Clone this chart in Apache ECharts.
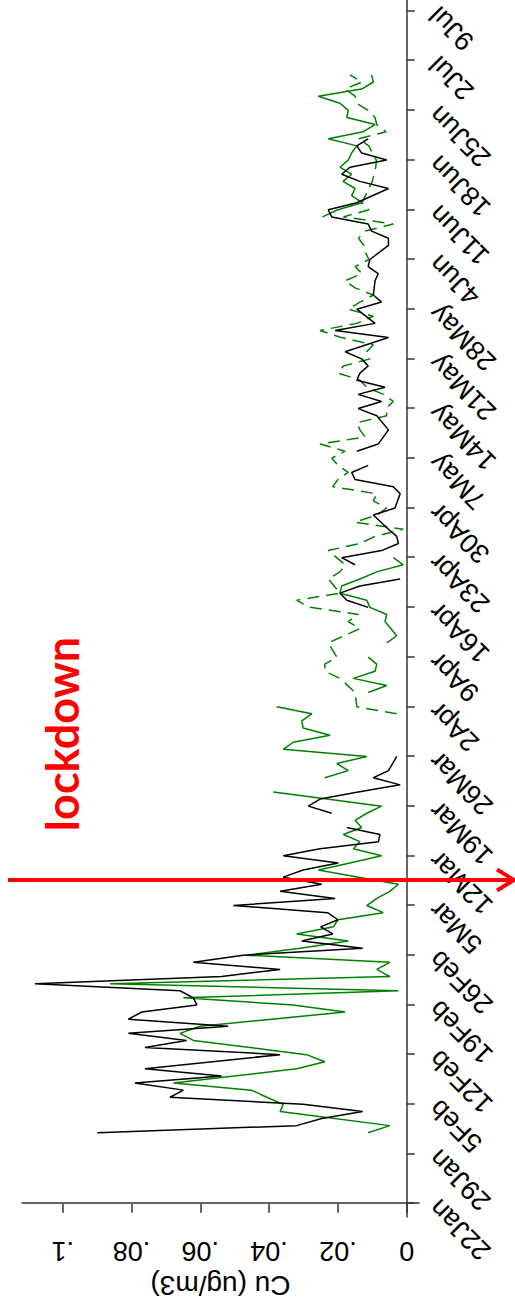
<!DOCTYPE html>
<html>
<head>
<meta charset="utf-8">
<script src="https://cdn.jsdelivr.net/npm/echarts@6/dist/echarts.min.js"></script>
<style>
  html, body { margin: 0; padding: 0; background: #fff; }
  #frame { position: relative; width: 515px; height: 1303px; overflow: hidden; }
  /* the plot is laid out landscape and turned a quarter turn counter-clockwise */
  #chart { position: absolute; left: 0; top: 0; width: 1303px; height: 515px;
           transform-origin: 0 0; transform: translate(0, 1303px) rotate(-90deg); }
</style>
</head>
<body>
<div id="frame"><div id="chart"></div></div>
<script>
// days counted from 22 Jan
const tickDays = [0,7,14,21,28,35,42,49,56,63,70,77,84,91,98,105,112,119,126,133,140,147,154,161,168];
const tickLabels = ['22Jan','29Jan','5Feb','12Feb','19Feb','26Feb','5Mar','12Mar','19Mar','26Mar','2Apr','9Apr',
  '16Apr','23Apr','30Apr','7May','14May','21May','28May','4Jun','11Jun','18Jun','25Jun','2Jul','9Jul'];
const valueTicks = [0, 0.02, 0.04, 0.06, 0.08, 0.1];
const valueLabels = ['0', '.02', '.04', '.06', '.08', '.1'];
const lockdownDay = 45.6;

// daily Cu concentrations, [day, ug/m3]; null marks a missing day
const siteBlack = [
  [10,.0899],[11,.0320],[12,.0247],[13,.0128],[14,.0301],[15,.0688],[16,.0649],[17,.0790],[18,.0538],[19,.0761],
  [21,.0368],[22,.0761],[23,.0640],[24,.0809],[25,.0519],[26,.0809],[27,.0770],[28,.0610],[29,.0620],[30,.0659],
  [31,.1081],[32,.0538],[33,.0368],[34,.0620],[35,.0475],[36,.0128],[37,.0305],[38,.0215],[39,.0250],[40,.0200],
  [41,.0230],[42,.0504],[43,.0208],[44,.0368],[45,.0247],[46,.0359],[47,.0301],[48,.0199],[49,.0359],[50,.0252],
  [51,.0082],[52,.0078],[53,.0174],[54,null],[55,.0218],[56,.0286],[57,.0252],[58,.0141],[59,.0019],[60,.0097],
  [61,.0053],[63,.0029],[64,null],
  [84,.0112],[85,.0174],[86,.0194],[87,.0136],[88,.0019],[89,null],[90,.0150],[91,.0189],[92,.0073],[93,.0024],
  [94,.0029],[95,.0053],[97,.0097],[98,.0034],[100,.0019],[101,.0039],[102,.0150],[103,.0160],[104,.0112],[105,null],
  [106,.0145],[107,.0083],[109,.0053],[111,.0087],[112,.0141],[113,.0073],[114,.0141],[115,.0063],[116,.0145],
  [117,.0136],[118,.0112],[119,.0131],[120,.0179],[122,.0053],[123,.0208],[124,.0092],[126,.0145],[127,.0073],
  [128,.0097],[130,.0092],[131,.0083],[132,.0112],[133,.0107],[135,.0053],[136,.0053],[137,.0102],[138,.0112],
  [139,.0218],[140,.0228],[141,.0145],[143,.0053],[144,.0136],[145,.0189],[146,.0165],[147,.0058],[148,.0131],
  [149,.0145],[150,.0112]
];
const siteGreen = [
  [10,.0112],[11,.0049],[13,.0368],[14,.0359],[15,.0407],[16,.0451],[17,.0678],[19,.0320],[20,.0238],[21,.0291],
  [23,.0620],[24,.0659],[25,.0601],[27,.0179],[28,.0330],[29,.0649],[30,.0024],[31,.0862],[32,.0049],[33,.0087],
  [34,.0049],[35,.0465],[36,.0310],[37,.0170],[38,.0320],[39,.0213],[40,.0200],[41,.0068],[42,.0116],[43,.0087],
  [44,.0049],[45,.0024],[46,.0140],[47,.0257],[48,.0165],[49,.0073],[50,.0155],[51,.0136],[52,.0184],[53,.0131],
  [54,.0150],[55,.0116],[56,.0073],[57,.0232],[58,.0388],[59,null],[60,.0238],[61,.0170],[62,.0203],[63,.0116],
  [64,.0359],[65,.0330],[66,.0223],[67,.0301],[68,.0305],[69,.0276],[70,.0378],[71,null],[72,.0112],[73,.0058],
  [74,.0155],[75,.0092],[76,.0087],[77,.0112],[78,null],[79,.0058],[80,.0029],[82,.0063],[83,.0058],[84,.0107],
  [85,.0116],[86,.0194],[87,.0189],[88,.0136],[89,.0087],[90,.0010],[91,.0039],[92,null],
  [139,.0245],[140,.0200],[141,.0130],[142,.0160],[143,.0150],[144,.0185],[145,.0160],[146,.0194],[147,.0170],
  [148,.0160],[149,.0145],[150,.0228],[151,.0126],[152,.0092],[153,.0174],[154,.0170],[155,.0194],[156,.0257],
  [157,.0131],[158,.0097],[159,.0102]
];
const siteGreenDash = [
  [69,.0029],[70,.0145],[72,.0150],[74,.0194],[75,.0238],[76,.0238],[77,.0203],[79,.0228],[81,.0136],[82,.0170],
  [83,.0140],[84,.0281],[85,.0320],[86,.0194],[88,.0228],[89,.0194],[90,.0179],[92,.0228],[93,.0136],[94,.0092],
  [95,.0010],[96,.0150],[97,.0087],[98,.0058],[99,.0097],[100,.0087],[101,.0215],[102,.0200],[103,.0170],[104,.0199],
  [105,.0218],[106,.0179],[107,.0252],[108,.0121],[109,.0136],[110,.0145],[111,.0058],[112,.0060],[113,.0039],
  [114,.0068],[115,.0116],[116,.0136],[117,.0199],[118,.0184],[119,.0107],[120,.0116],[121,.0097],[122,.0190],
  [123,.0252],[124,.0145],[125,.0097],[126,.0170],[127,.0136],[128,.0097],[129,.0150],[130,.0180],[131,.0130],
  [132,.0150],[133,.0110],[134,.0120],[135,.0125],[136,.0140],[137,.0120],[138,.0039],[139,.0184],[140,.0110],
  [141,.0130],[142,.0120],[143,.0110],[144,.0100],[145,.0095],[146,.0090],[147,.0088],[148,.0100],[149,.0110],
  [150,.0140],[151,.0060],[152,.0087],[153,.0092],[154,.0112],[155,.0145],[156,.0150],[157,.0179],[158,.0130],
  [159,.0165]
];

const FONT = '"Liberation Sans", Arial, sans-serif';
const AXIS = '#333';
const chart = echarts.init(document.getElementById('chart'), null, { renderer: 'svg', width: 1303, height: 515 });

const lineSeries = (data, color, dashed) => ({
  type: 'line', data, showSymbol: false, symbol: 'none', connectNulls: false, animation: false,
  lineStyle: { color, width: 1.5, type: dashed ? [12, 7] : 'solid' }
});

chart.setOption({
  animation: false,
  grid: { left: 86, right: 0, top: 22, bottom: 96, containLabel: false, outerBoundsMode: 'none' },
  xAxis: {
    type: 'value', min: -1.87, max: 169.55,
    splitLine: { show: false },
    axisLine: { lineStyle: { color: AXIS, width: 1.5 } },
    axisTick: { customValues: tickDays, length: 8, lineStyle: { color: AXIS, width: 1.5 } },
    axisLabel: {
      customValues: tickDays, rotate: 45, margin: 15, fontSize: 27, fontFamily: FONT, color: '#000',
      align: 'right', verticalAlign: 'middle', hideOverlap: false,
      formatter: v => tickLabels[tickDays.indexOf(Math.round(v))] || ''
    }
  },
  yAxis: {
    type: 'value', min: -0.003576, max: 0.11183,
    splitLine: { show: false },
    axisLine: { show: true, lineStyle: { color: AXIS, width: 1.5 } },
    axisTick: { show: true, customValues: valueTicks, length: 9, lineStyle: { color: AXIS, width: 1.5 } },
    axisLabel: {
      customValues: valueTicks, rotate: 90, margin: 20, fontSize: 27, fontFamily: FONT, color: '#000',
      formatter: v => valueLabels[valueTicks.findIndex(t => Math.abs(t - v) < 1e-9)] ?? ''
    },
    name: 'Cu (ug/m3)', nameLocation: 'middle', nameRotate: 90, nameGap: 50,
    nameTextStyle: { fontSize: 28, fontFamily: FONT, color: '#000' }
  },
  series: [
    lineSeries(siteGreenDash, '#008000', true),
    lineSeries(siteGreen, '#008000', false),
    lineSeries(siteBlack, '#000000', false)
  ]
});

// lockdown marker: arrow down to the date axis and its caption
const ax = chart.convertToPixel({ xAxisIndex: 0 }, lockdownDay);
chart.setOption({
  graphic: [
    { type: 'line', shape: { x1: ax, y1: 8, x2: ax, y2: 513 }, style: { stroke: '#ff0000', lineWidth: 4 }, z: 10 },
    { type: 'polyline', shape: { points: [[ax - 10.5, 497], [ax, 514], [ax + 10.5, 497]] },
      style: { stroke: '#ff0000', lineWidth: 4, fill: null, lineJoin: 'miter' }, z: 10 },
    { type: 'text', x: 569, y: 62, z: 10,
      style: { text: 'lockdown', fill: '#ff0000', fontSize: 45, fontWeight: 'bold', fontFamily: 'Lato, "Open Sans", sans-serif',
               align: 'center', verticalAlign: 'middle' } }
  ]
});
</script>
</body>
</html>
